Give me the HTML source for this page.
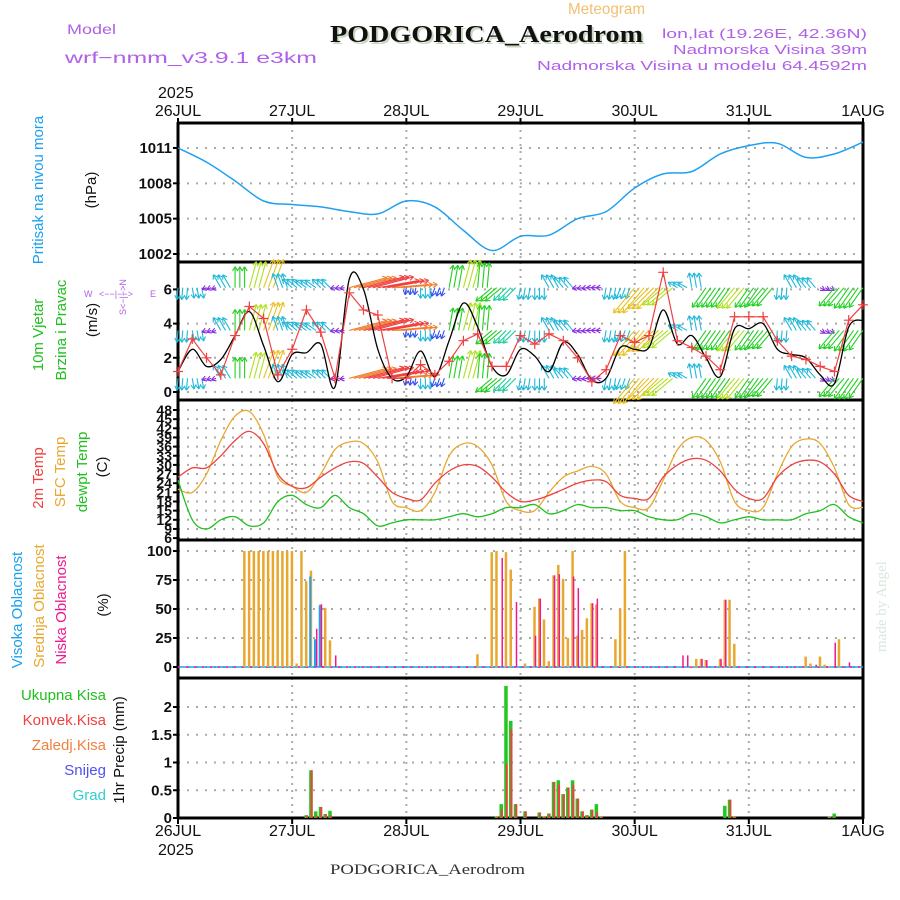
<!DOCTYPE html>
<html><head><meta charset="utf-8"><style>
body{margin:0;background:#fff;}
svg{display:block;font-family:"Liberation Sans",sans-serif;}
</style></head><body>
<svg id="c" width="900" height="900" viewBox="0 0 900 900" xmlns="http://www.w3.org/2000/svg">
<text x="568" y="14" textLength="77" lengthAdjust="spacingAndGlyphs" font-size="16" fill="#f2c070">Meteogram</text>
<text x="332" y="44" textLength="313" lengthAdjust="spacingAndGlyphs" font-family="Liberation Serif,serif" font-weight="bold" font-size="24" fill="#c8d8c0">PODGORICA_Aerodrom</text>
<text x="330" y="42" textLength="313" lengthAdjust="spacingAndGlyphs" font-family="Liberation Serif,serif" font-weight="bold" font-size="24" fill="#111">PODGORICA_Aerodrom</text>
<text x="67" y="34" textLength="49" lengthAdjust="spacingAndGlyphs" font-size="14" fill="#b060e8">Model</text>
<text x="65" y="63" textLength="252" lengthAdjust="spacingAndGlyphs" font-size="16" fill="#b060e8">wrf−nmm_v3.9.1  e3km</text>
<text x="662" y="38" textLength="205" lengthAdjust="spacingAndGlyphs" font-size="13" fill="#b060e8">lon,lat (19.26E, 42.36N)</text>
<text x="673" y="54" textLength="194" lengthAdjust="spacingAndGlyphs" font-size="13" fill="#b060e8">Nadmorska Visina 39m</text>
<text x="537" y="70" textLength="330" lengthAdjust="spacingAndGlyphs" font-size="13" fill="#b060e8">Nadmorska Visina u modelu 64.4592m</text>
<text x="158" y="98" font-size="16" fill="#111">2025</text>
<text x="158" y="855" font-size="16" fill="#111">2025</text>
<text x="330" y="874" textLength="195" lengthAdjust="spacingAndGlyphs" font-family="Liberation Serif,serif" font-size="15" fill="#333">PODGORICA_Aerodrom</text>
<text transform="translate(886,652) rotate(-90)" font-family="Liberation Serif,serif" font-size="15" fill="#d8e8dc">made by Angel</text>
<g id="labels" font-size="15">
<text transform="translate(43,190) rotate(-90)" text-anchor="middle" fill="#1aa0f0">Pritisak na nivou mora</text>
<text transform="translate(96,190) rotate(-90)" text-anchor="middle" fill="#111">(hPa)</text>
<text transform="translate(43,335) rotate(-90)" text-anchor="middle" fill="#20c020">10m Vjetar</text>
<text transform="translate(66,330) rotate(-90)" text-anchor="middle" fill="#20c020">Brzina i Pravac</text>
<text transform="translate(97,320) rotate(-90)" text-anchor="middle" fill="#111">(m/s)</text>
<text transform="translate(43,478) rotate(-90)" text-anchor="middle" fill="#f04040">2m Temp</text>
<text transform="translate(65,472) rotate(-90)" text-anchor="middle" fill="#e8a830">SFC Temp</text>
<text transform="translate(87,472) rotate(-90)" text-anchor="middle" fill="#20c020">dewpt Temp</text>
<text transform="translate(107,467) rotate(-90)" text-anchor="middle" fill="#111">(C)</text>
<text transform="translate(22,610) rotate(-90)" text-anchor="middle" fill="#1aa0f0">Visoka Oblacnost</text>
<text transform="translate(44,606) rotate(-90)" text-anchor="middle" fill="#e8a830">Srednja Oblacnost</text>
<text transform="translate(66,610) rotate(-90)" text-anchor="middle" fill="#f01890">Niska Oblacnost</text>
<text transform="translate(108,605) rotate(-90)" text-anchor="middle" fill="#111">(%)</text>
<text transform="translate(124,750) rotate(-90)" text-anchor="middle" fill="#111">1hr Precip (mm)</text>
<text x="106" y="700" text-anchor="end" fill="#20c020">Ukupna  Kisa</text>
<text x="106" y="725" text-anchor="end" fill="#f04040">Konvek.Kisa</text>
<text x="106" y="750" text-anchor="end" fill="#f08040">Zaledj.Kisa</text>
<text x="106" y="775" text-anchor="end" fill="#5050f0">Snijeg</text>
<text x="106" y="800" text-anchor="end" fill="#30d0d0">Grad</text>
<g fill="#b060e8" font-size="9">
<text x="84" y="297">W</text><text x="150" y="297">E</text>
<text x="99" y="297">&lt;−−|−−&gt;</text>
<text transform="translate(126,315) rotate(-90)">S&lt;−|−&gt;N</text>
</g>
</g>
<g id="plot"></g>
</svg>
<script>
// ---------- data ----------
const dayLabels = ["26JUL","27JUL","28JUL","29JUL","30JUL","31JUL","1AUG"];
const pressureTicks = [1002,1005,1008,1011];
const windTicks = [0,2,4,6];
const tempTicks = [6,9,12,15,18,21,24,27,30,33,36,39,42,45,48];
const cloudTicks = [0,25,50,75,100];
const precipTicks = [0,0.5,1,1.5,2];
const precipTickLabels = ["0","0.5","1","1.5","2"];
// pressure every 6h
const pressure = [1011,1009.8,1008.2,1006.5,1006.2,1006.0,1005.6,1005.4,1006.5,1006.0,1004.0,1002.3,1003.5,1003.6,1005.0,1005.6,1007.6,1008.8,1009.0,1010.5,1011.2,1011.4,1010.2,1010.5,1011.5];
// wind every 3h
const windBlack = [1.2,2.5,1.5,1.9,3.3,4.7,2.7,0.6,2.2,2.3,2.8,0.3,6.6,6.0,2.5,0.8,0.9,2.4,0.9,3.0,5.2,3.8,1.5,1.0,2.5,2.1,1.2,2.9,2.2,0.7,0.8,2.6,2.5,2.6,4.8,2.8,3.3,2.0,0.9,3.7,3.7,4.0,2.5,2.2,2.0,1.0,0.5,3.8,4.2];
const windRed = [1.2,3.1,2.0,1.0,3.3,5.0,4.3,1.0,2.5,4.8,3.5,0.8,5.8,4.8,4.5,0.8,0.8,1.6,1.0,1.8,3.0,3.4,1.5,1.5,3.3,2.8,3.4,3.0,2.0,0.6,1.3,3.3,2.9,3.3,7.0,3.0,2.6,2.1,1.3,4.4,4.4,4.4,3.0,2.1,1.9,1.5,1.2,4.2,5.1];
const windDir = [185,170,250,330,0,15,20,340,310,305,315,260,75,75,80,85,190,180,200,10,15,5,230,225,190,180,330,320,260,270,190,200,220,225,230,300,350,215,215,220,215,220,185,330,320,120,220,215,215];
const windSpd = [2.0,1.8,0.8,2.5,3.5,4.5,5.0,2.5,2.2,2.2,2.0,0.8,6.5,7.0,7.0,6.0,1.2,1.8,1.5,3.8,4.8,4.2,3.5,3.0,2.0,2.0,2.5,2.3,0.9,0.9,2.0,2.0,5.5,5.0,4.5,1.8,2.5,4.0,4.0,4.5,4.0,4.0,2.0,2.5,2.2,0.9,4.0,4.2,4.0];
const windRows = [6.1,3.6,0.8];
// temperatures every 3h
const temp2m = [26,29,29,33,38,41,37,27, 23,22.5,26,29,31,30.5,26,21, 19,18.5,24,28,30,29.5,26,21, 18,18.5,20,22,24,25,24.5,20, 19,19,26,30,32,31.5,28,22, 19,19,26,30,31.5,31,27,20,18];
const tempSfc = [22,21,27,38,46,47.5,40,26, 23,21,27,35,37.5,37,31,18, 16,15,21,33,37,36,30,18, 15,15,21,26,28,29.5,27,18, 16,16,25,35,39,38,31,18, 15,16,27,36,38.5,37,29,17,16];
const tempDew = [25,12,9,12,13,10,11,18, 20,17,16,20,16,14,10,11, 12,12,12,13,14,13,14,16, 16,17,14,15,17,16,16,15, 15,13,12,12,14,13,11,12, 13,12,12,12,14,15,17,13,11];
// clouds (hour, %)
const midCloudHours = [14,15,16,17,18,19,20,21,22,23,24,25,26,27,28,30,31,32,63,66,67,69,70,73,75,76,77,78,79,80,81,82,83,84,85,86,87,88,92,93,94,108,109,110,111,114,115,116,117,132,133,135,136,137,139];
const midCloud = [100,100,100,100,100,100,100,100,100,100,100,3,100,74,83,54,51,23,11,99,100,99,84,3,52,59,41,5,79,88,76,25,100,27,32,42,55,54,24,50,100,1,7,7,6,7,58,58,20,9,3,9,2,1,24];
const lowCloudHours = [29,30,33,68,71,75,76,79,80,83,84,87,88,106,107,110,111,114,115,134,138,141];
const lowCloud = [33,54,10,94,56,27,59,79,80,78,68,55,59,10,10,7,6,7,58,2,21,4];
const highCloudHours = [28,29,30];
const highCloud = [78,24,53];
// precipitation (hour, mm)
const precipHours = [27,28,29,30,31,32,67,68,69,70,71,73,76,77,78,79,80,81,82,83,84,85,86,87,88,89,115,116,117,137,138];
const precipTotal = [0.05,0.86,0.12,0.2,0.07,0.13,0.03,0.25,2.38,1.75,0.25,0.12,0.1,0.03,0.08,0.65,0.68,0.43,0.55,0.68,0.35,0.12,0.05,0.15,0.25,0.03,0.22,0.33,0.03,0.03,0.08];
const precipConv = [0.05,0.86,0.05,0.2,0.07,0.05,0.03,0.15,0.98,1.6,0.25,0.12,0.1,0.03,0.08,0.65,0.6,0.43,0.55,0.6,0.35,0.12,0.05,0.15,0.1,0.03,0.0,0.33,0.03,0.02,0.02];

// ---------- scales ----------
const X0=178, X1=863, HOURS=144;
const xh = h => X0 + h*(X1-X0)/HOURS;
const yP = p => 254 - (p-1002)*11.78;
const yW = v => 392 - v*17.1;
const yT = t => 410 + (48-t)*3.05;
const yC = c => 667 - c*1.16;
const yR = r => 818 - r*55.5;
const panels = [[123,262],[262,400],[400,540],[540,678],[678,818]];
const NS="http://www.w3.org/2000/svg";
const plot=document.getElementById('plot');
function el(tag,attrs,parent){const e=document.createElementNS(NS,tag);for(const k in attrs)e.setAttribute(k,attrs[k]);(parent||plot).appendChild(e);return e;}
function path(pts){return pts.map((p,i)=>(i?'L':'M')+p[0].toFixed(1)+' '+p[1].toFixed(1)).join('');}
function smooth(pts){
  let d='M'+pts[0][0].toFixed(1)+' '+pts[0][1].toFixed(1);
  for(let i=0;i<pts.length-1;i++){
    const p0=pts[Math.max(0,i-1)],p1=pts[i],p2=pts[i+1],p3=pts[Math.min(pts.length-1,i+2)];
    const c1=[p1[0]+(p2[0]-p0[0])/6,p1[1]+(p2[1]-p0[1])/6],c2=[p2[0]-(p3[0]-p1[0])/6,p2[1]-(p3[1]-p1[1])/6];
    d+=`C${c1[0].toFixed(1)} ${c1[1].toFixed(1)} ${c2[0].toFixed(1)} ${c2[1].toFixed(1)} ${p2[0].toFixed(1)} ${p2[1].toFixed(1)}`;
  }
  return d;
}

// grid
panels.forEach(([a,b])=>{
  for(let d=1;d<6;d++){
    const g=el('line',{x1:xh(d*24),x2:xh(d*24),y1:a,y2:b,stroke:'#aaa','stroke-width':2,'stroke-dasharray':'2,5'});
    
    
  }
});
function hgrid(ticks,f,labels,fs){
  ticks.forEach((t,i)=>{
    const y=f(t);
    const g=el('line',{x1:X0,x2:X1,y1:y,y2:y,stroke:'#aaa','stroke-width':2,'stroke-dasharray':'2,7'});
    
    
    el('line',{x1:X0-5,x2:X0,y1:y,y2:y,stroke:'#000','stroke-width':2});
    const tx=el('text',{x:X0-6,y:y+5,'text-anchor':'end','font-size':fs||15,'font-weight':'bold',fill:'#111'});
    tx.textContent=labels?labels[i]:t;
    
    
  });
}
hgrid(pressureTicks,yP);
hgrid(windTicks,yW);
hgrid(tempTicks,yT,null,14);
hgrid(cloudTicks,yC);
hgrid(precipTicks,yR,precipTickLabels);

// frames
panels.forEach(([a])=>{
  const f=el('line',{x1:X0,x2:X1,y1:a,y2:a,stroke:'#000','stroke-width':3});
  
  
});
el('line',{x1:X0,x2:X1,y1:818,y2:818,stroke:'#000','stroke-width':3});
el('line',{x1:X0,x2:X0,y1:122,y2:819,stroke:'#000','stroke-width':3});
el('line',{x1:X1,x2:X1,y1:122,y2:819,stroke:'#000','stroke-width':3});
// day labels
dayLabels.forEach((d,i)=>{
  [[116,-6],[836,6]].forEach(([ty,tk])=>{
    const t=el('text',{x:xh(i*24),y:ty,'text-anchor':'middle','font-size':16,fill:'#111'});
    t.textContent=d;
    
    
    el('line',{x1:xh(i*24),x2:xh(i*24),y1:tk<0?118:818,y2:tk<0?123:824,stroke:'#000','stroke-width':2});
  });
});

// pressure
const pl=el('path',{d:smooth(pressure.map((p,i)=>[xh(i*6),yP(p)])),fill:'none',stroke:'#20a0f0','stroke-width':1.5});



// wind arrows
function spdColor(s){
  if(s<1)return '#8a2be2'; if(s<1.6)return '#3050f0'; if(s<2.6)return '#20b8d8';
  if(s<3.3)return '#20d0a0'; if(s<4.3)return '#20d020'; if(s<5)return '#b0e020';
  if(s<5.8)return '#e8c020'; if(s<6.6)return '#f08030'; return '#f04040';
}
windRows.forEach(rv=>{
  windDir.forEach((dir,i)=>{
    for(let k=0;k<3;k++){
      const h=i*3+k; if(h>HOURS)continue;
      const x=xh(h), y=yW(rv), L=windSpd[i]*6, a=dir*Math.PI/180;
      const x2=x+L*Math.sin(a), y2=y-L*Math.cos(a);
      const c=spdColor(windSpd[i]);
      const ln=el('line',{x1:x,y1:y,x2:x2,y2:y2,stroke:c,'stroke-width':1.1});
      
      
      [a+2.6,a-2.6].forEach(b=>el('line',{x1:x2,y1:y2,x2:x2+5*Math.sin(b),y2:y2-5*Math.cos(b),stroke:c,'stroke-width':1.1}));
    }
  });
});
const wb=el('path',{d:smooth(windBlack.map((v,i)=>[xh(i*3),yW(v)])),fill:'none',stroke:'#000','stroke-width':1.3});


const wr=el('path',{d:path(windRed.map((v,i)=>[xh(i*3),yW(v)])),fill:'none',stroke:'#f04040','stroke-width':1.2});


windRed.forEach((v,i)=>{
  const x=xh(i*3),y=yW(v);
  const m=el('path',{d:`M${x-5} ${y}H${x+5}M${x} ${y-5}V${y+5}`,stroke:'#f04040','stroke-width':1.2});
  
  
});

// temperatures
[[tempSfc,'#e8a830','sfc-temp-line'],[temp2m,'#f04040','temp-2m-line'],[tempDew,'#20c020','dewpoint-line']].forEach(([arr,c,n])=>{
  const p=el('path',{d:smooth(arr.map((t,i)=>[xh(i*3),yT(t)])),fill:'none',stroke:c,'stroke-width':1.3});
  
  
});

// clouds
el('line',{x1:X0,x2:X1,y1:667,y2:667,stroke:'#20a0f0','stroke-width':1.5});
el('line',{x1:X0,x2:X1,y1:667,y2:667,stroke:'#f01890','stroke-width':1.5,'stroke-dasharray':'2,6'});
midCloudHours.forEach((h,i)=>{
  const r=el('rect',{x:xh(h)-1.5,y:yC(midCloud[i]),width:2.5,height:667-yC(midCloud[i]),fill:'#e8a830'});
  
  
});
highCloudHours.forEach((h,i)=>{
  const r=el('rect',{x:xh(h)-2,y:yC(highCloud[i]),width:2,height:667-yC(highCloud[i]),fill:'#20a0f0'});
  
  
});
lowCloudHours.forEach((h,i)=>{
  const r=el('rect',{x:xh(h),y:yC(lowCloud[i]),width:1.5,height:667-yC(lowCloud[i]),fill:'#f01890'});
  
  
});

// precipitation
precipHours.forEach((h,i)=>{
  const g=el('rect',{x:xh(h)-2,y:yR(precipTotal[i]),width:3.5,height:818-yR(precipTotal[i]),fill:'#20c820'});
  
  
  const r=el('rect',{x:xh(h)-0.5,y:yR(precipConv[i]),width:2,height:818-yR(precipConv[i]),fill:'#f04040'});
  
  
});
</script>
</body></html>
